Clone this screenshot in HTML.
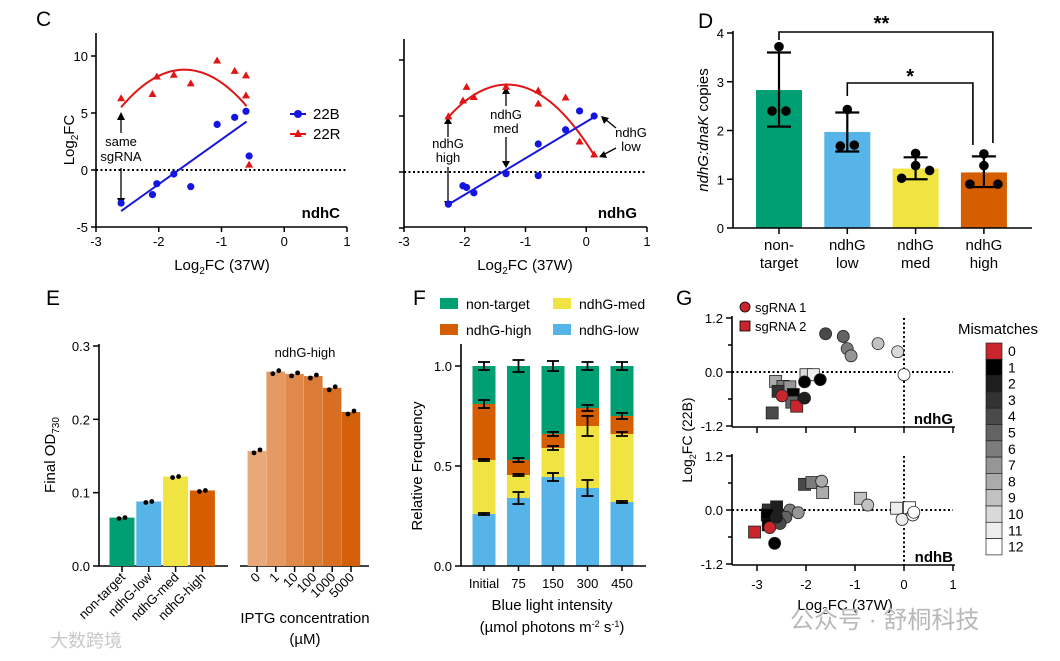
<!DOCTYPE html>
<html><head><meta charset="utf-8"><style>
html,body{margin:0;padding:0;background:#fff}
svg{display:block;font-family:"Liberation Sans","Noto Sans CJK SC",sans-serif}
</style></head><body>
<svg id="fig" width="1060" height="661" viewBox="0 0 1060 661">
<g id="static" fill="#000" font-size="13">
<text x="36" y="26" font-size="21">C</text>
<text x="698" y="28" font-size="21">D</text>
<text x="46" y="305" font-size="21">E</text>
<text x="413" y="305" font-size="21">F</text>
<text x="676" y="305" font-size="21">G</text>
<text transform="translate(74,140) rotate(-90)" text-anchor="middle" font-size="15">Log<tspan font-size="10" dy="4">2</tspan><tspan dy="-4">FC</tspan></text>
<text x="222" y="270" text-anchor="middle" font-size="15">Log<tspan font-size="10" dy="4">2</tspan><tspan dy="-4">FC (37W)</tspan></text>
<text x="525" y="270" text-anchor="middle" font-size="15">Log<tspan font-size="10" dy="4">2</tspan><tspan dy="-4">FC (37W)</tspan></text>
<text x="340" y="218" text-anchor="end" font-weight="bold" font-size="15">ndhC</text>
<text x="637" y="218" text-anchor="end" font-weight="bold" font-size="15">ndhG</text>
<text x="121" y="146" text-anchor="middle">same</text>
<text x="121" y="161" text-anchor="middle">sgRNA</text>
<text x="448" y="148" text-anchor="middle">ndhG</text>
<text x="448" y="162" text-anchor="middle">high</text>
<text x="506" y="119" text-anchor="middle">ndhG</text>
<text x="506" y="133" text-anchor="middle">med</text>
<text x="631" y="137" text-anchor="middle">ndhG</text>
<text x="631" y="151" text-anchor="middle">low</text>
<g stroke="#000" stroke-width="1.3" fill="none">
<path d="M121 133V118M121 168V200M448 137V122M448 167V203M506 106V92M506 137V163M616 128L605 119M616 148L603 155"/>
</g>
<g fill="#000">
<path d="M117 120L121 112L125 120ZM117 198L121 206L125 198ZM444 124L448 117L452 124ZM444 201L448 208L452 201ZM502 94L506 87L510 94ZM502 161L506 168L510 161ZM604 124L601 116L609 118ZM607 158L599 157L604 151Z"/>
</g>
<circle cx="298" cy="114" r="4" fill="#1515e0"/>
<line x1="290" y1="114" x2="306" y2="114" stroke="#1515e0" stroke-width="2"/>
<text x="313" y="119" font-size="15">22B</text>
<path d="M294 137L298 129L302 137Z" fill="#e01515"/>
<line x1="290" y1="134" x2="306" y2="134" stroke="#e01515" stroke-width="2"/>
<text x="313" y="139" font-size="15">22R</text>
<text transform="translate(708,130) rotate(-90)" text-anchor="middle" font-size="15"><tspan font-style="italic">ndhG:dnaK</tspan> copies</text>
<text transform="translate(55,455) rotate(-90)" text-anchor="middle" font-size="15">Final OD<tspan font-size="10" dy="4">730</tspan></text>
<text x="305" y="357" text-anchor="middle">ndhG-high</text>
<text x="305" y="623" text-anchor="middle" font-size="15">IPTG concentration</text>
<text x="305" y="644" text-anchor="middle" font-size="15">(µM)</text>
<text transform="translate(422,466) rotate(-90)" text-anchor="middle" font-size="15">Relative Frequency</text>
<text x="552" y="610" text-anchor="middle" font-size="15">Blue light intensity</text>
<text x="552" y="632" text-anchor="middle" font-size="15">(µmol photons m<tspan font-size="9" dy="-5">-2</tspan><tspan dy="5"> s</tspan><tspan font-size="9" dy="-5">-1</tspan><tspan dy="5">)</tspan></text>
<text transform="translate(692,440) rotate(-90)" text-anchor="middle" font-size="14">Log<tspan font-size="9" dy="4">2</tspan><tspan dy="-4">FC (22B)</tspan></text>
<text x="845" y="610" text-anchor="middle" font-size="15">Log<tspan font-size="10" dy="4">2</tspan><tspan dy="-4">FC (37W)</tspan></text>
<circle cx="745" cy="307" r="5" fill="#c8252c" stroke="#000" stroke-width="0.8"/>
<text x="755" y="312">sgRNA 1</text>
<rect x="740" y="321" width="10" height="10" fill="#c8252c" stroke="#000" stroke-width="0.8"/>
<text x="755" y="331">sgRNA 2</text>
<text x="998" y="334" text-anchor="middle" font-size="15">Mismatches</text>
<text x="953" y="424" text-anchor="end" font-weight="bold" font-size="15">ndhG</text>
<text x="953" y="562" text-anchor="end" font-weight="bold" font-size="15">ndhB</text>
<text x="790" y="628" font-size="24" fill="#b8b8b8">公众号 · 舒桐科技</text>
<text x="50" y="647" font-size="18" fill="#c8c8c8">大数跨境</text>
</g>
<g id="dyn"></g>
</svg>
<script>
// ---------- DATA ----------
const c1BX=[-2.6,-2.1,-2.03,-1.76,-1.49,-1.07,-0.79,-0.61,-0.56];
const c1BY=[-2.9,-2.16,-1.2,-0.35,-1.46,4.0,4.62,5.15,1.23];
const c1RX=[-2.6,-2.1,-2.03,-1.76,-1.49,-1.07,-0.79,-0.61,-0.61,-0.56];
const c1RY=[6.29,6.67,8.2,8.35,7.6,9.6,8.7,8.3,6.55,0.47];
const c1BFitX=[-2.6,-0.6], c1BFitY=[-3.6,4.25];
const c1RFitX=[-2.6,-1.6,-0.6], c1RFitY=[5.5,8.8,5.6];
const c2BX=[-2.27,-2.03,-1.97,-1.85,-1.32,-0.79,-0.79,-0.34,-0.11,0.13];
const c2BY=[-2.87,-1.23,-1.38,-1.86,-0.15,-0.33,2.5,3.77,5.45,5.0];
const c2RX=[-2.27,-2.03,-1.97,-1.85,-1.32,-0.79,-0.79,-0.34,-0.11,0.13];
const c2RY=[4.97,6.38,7.6,6.7,7.6,7.28,6.1,6.65,2.72,1.56];
const c2BFitX=[-2.27,0.13], c2BFitY=[-2.9,4.9];
const c2RFitX=[-2.27,-1.35,0.13], c2RFitY=[4.9,7.8,1.5];
const cXTicks=[-3,-2,-1,0,1];
const c1YTicks=[-5,0,5,10];

const dCats=[["non-","target"],["ndhG","low"],["ndhG","med"],["ndhG","high"]];
const dVals=[2.83,1.97,1.22,1.14];
const dErrLo=[2.08,1.57,1.0,0.84];
const dErrHi=[3.6,2.37,1.45,1.47];
const dPts=[[3.72,2.4,2.4],[2.43,1.68,1.7],[1.53,1.28,1.02,1.18],[1.52,1.28,0.9,0.9]];
const dTicks=[0,1,2,3,4];

const eCats=["non-target","ndhG-low","ndhG-med","ndhG-high"];
const eVals=[0.066,0.088,0.122,0.103];
const eIptg=["0","1","10","100","1000","5000"];
const eIptgVals=[0.157,0.265,0.262,0.259,0.243,0.21];
const eTicks=[0.0,0.1,0.2,0.3];

const fCats=["Initial","75","150","300","450"];
const fLow=[0.26,0.34,0.445,0.39,0.32];
const fMed=[0.27,0.115,0.145,0.31,0.34];
const fHigh=[0.28,0.075,0.07,0.09,0.09];
const fNon=[0.19,0.47,0.34,0.21,0.25];
const fErr=[[0.005,0.03,0.02,0.04,0.005],[0.005,0.005,0.01,0.05,0.01],[0.02,0.01,0.01,0.015,0.015],[0.02,0.03,0.025,0.02,0.02]];
const fTicks=[0,0.5,1.0];

const gTopX=[-1.6,-1.24,-1.16,-1.08,-0.53,-0.13,0,-2.03,-1.71,-2.03,-2.49];
const gTopY=[0.85,0.79,0.52,0.36,0.63,0.45,-0.06,-0.22,-0.17,-0.58,-0.53];
const gTopM=[4,5,6,7,9,10,12,1,1,2,0];
const gTopSqX=[-2.0,-1.85,-2.62,-2.47,-2.33,-2.57,-2.26,-2.29,-2.19,-2.69];
const gTopSqY=[-0.06,-0.06,-0.21,-0.32,-0.33,-0.43,-0.5,-0.67,-0.76,-0.91];
const gTopSqM=[10,11,8,6,7,3,1,5,0,4];
const gBotX=[-1.68,-0.74,-0.04,0.18,0.2,-2.64,-2.33,-2.16,-2.41,-2.53,-2.74,-2.6];
const gBotY=[0.64,0.11,-0.21,-0.11,-0.05,-0.74,0,-0.06,-0.16,-0.3,-0.39,-0.16];
const gBotM=[8,9,11,12,12,1,6,7,5,4,0,2];
const gBotSqX=[-2.03,-1.88,-1.66,-0.89,-0.15,0.11,-3.05,-2.77,-2.6,-2.79,-2.77];
const gBotSqY=[0.57,0.61,0.39,0.26,0.04,0.05,-0.49,0,0.07,-0.11,-0.33];
const gBotSqM=[4,6,8,9,11,12,0,3,2,1,1];
const gXTicks=[-3,-2,-1,0,1];
const gYTicks=[-1.2,0,1.2];
const gShades=["#c8252c","#000000","#1e1e1e","#333333","#4a4a4a","#636363","#7c7c7c","#969696","#ababab","#c2c2c2","#d9d9d9","#ededed","#ffffff"];
const gMismatchLabels=["0","1","2","3","4","5","6","7","8","9","10","11","12"];

// ---------- HELPERS ----------
const NS="http://www.w3.org/2000/svg";
const root=document.getElementById('dyn');
function mk(tag,attrs,name,inter){
  const el=document.createElementNS(NS,tag);
  for(const k in attrs) el.setAttribute(k,attrs[k]);
  
  
  root.appendChild(el);
  return el;
}
function lin(d0,d1,r0,r1){return v=>r0+(v-d0)/(d1-d0)*(r1-r0);}
function txt(x,y,s,name,opt){const t=mk('text',Object.assign({x:x,y:y,'font-size':13,fill:'#000'},opt||{}),name);t.textContent=s;return t;}
function line(x1,y1,x2,y2,name,w,extra){return mk('line',Object.assign({x1:x1,y1:y1,x2:x2,y2:y2,stroke:'#000','stroke-width':w||1.5},extra||{}),name);}
function quadPts(xs,ys){ // lagrange through 3 points
  const f=x=>{let s=0;for(let i=0;i<3;i++){let p=ys[i];for(let j=0;j<3;j++)if(j!==i)p*=(x-xs[j])/(xs[i]-xs[j]);s+=p;}return s;};
  const out=[];for(let k=0;k<=40;k++){const x=xs[0]+(xs[2]-xs[0])*k/40;out.push([x,f(x)]);}return out;
}
const BLUE="#1515e0",RED="#e01515";

// ---------- PANEL C ----------
function panelC(sx,sy,yTop,yBot,xL,xR,bx,by,rx,ry,bfx,bfy,rfx,rfy,yTicks,labelTicks,pre){
  line(xL,yTop,xL,yBot,pre+'-y-axis',1.6);
  line(xL,yBot,xR,yBot,pre+'-x-axis',1.6);
  cXTicks.forEach(t=>{line(sx(t),yBot,sx(t),yBot+5,pre+'-x-tick');txt(sx(t),yBot+19,String(t),pre+'-x-tick-label',{'text-anchor':'middle'});});
  yTicks.forEach(t=>{line(xL-5,sy(t),xL,sy(t),pre+'-y-tick');if(labelTicks)txt(xL-8,sy(t)+5,String(t),pre+'-y-tick-label',{'text-anchor':'end'});});
  line(xL,sy(0),xR,sy(0),pre+'-zero-line',2,{'stroke-dasharray':'2,2.5'});
  mk('path',{d:'M'+quadPts(rfx,rfy).map(p=>sx(p[0])+' '+sy(p[1])).join('L'),fill:'none',stroke:RED,'stroke-width':2},pre+'-22r-fit');
  line(sx(bfx[0]),sy(bfy[0]),sx(bfx[1]),sy(bfy[1]),pre+'-22b-fit',2,{stroke:BLUE});
  bx.forEach((x,i)=>mk('circle',{cx:sx(x),cy:sy(by[i]),r:3.6,fill:BLUE},pre+'-22b-point'));
  rx.forEach((x,i)=>{const X=sx(x),Y=sy(ry[i]);mk('path',{d:`M${X-4} ${Y+3}L${X} ${Y-4}L${X+4} ${Y+3}Z`,fill:RED},pre+'-22r-point');});
}
panelC(lin(-3,1,96,347),lin(0,10,170,56),33,227,96,347,c1BX,c1BY,c1RX,c1RY,c1BFitX,c1BFitY,c1RFitX,c1RFitY,c1YTicks,true,'c1');
panelC(lin(-3,1,404,647),lin(0,5,172,116),39,227,404,647,c2BX,c2BY,c2RX,c2RY,c2BFitX,c2BFitY,c2RFitX,c2RFitY,[-5,0,5,10].filter(v=>v<=10&&v>=-5).filter(v=>lin(0,5,172,116)(v)>=38),false,'c2');

// ---------- PANEL D ----------
(function(){
  const y=lin(0,4,228,33), xc=i=>779+i*68.3, cols=["#009e73","#56b4e9","#f0e442","#d55e00"];
  dCats.forEach((c,i)=>{
    mk('rect',{x:xc(i)-23,y:y(dVals[i]),width:46,height:y(0)-y(dVals[i]),fill:cols[i]},'d-bar-'+i);
    line(xc(i),y(dErrLo[i]),xc(i),y(dErrHi[i]),'d-error-bar',2.2);
    line(xc(i)-12,y(dErrLo[i]),xc(i)+12,y(dErrLo[i]),'d-error-cap',2.2);
    line(xc(i)-12,y(dErrHi[i]),xc(i)+12,y(dErrHi[i]),'d-error-cap',2.2);
    const n=dPts[i].length;
    dPts[i].forEach((v,j)=>{const off=n===3?[0,-7,7][j]:[0,0,-14,14][j];mk('circle',{cx:xc(i)+off,cy:y(v),r:4.8,fill:'#000'},'d-point');});
    line(xc(i),y(0),xc(i),y(0)+6,'d-x-tick');
    txt(xc(i),250,c[0],'d-x-label',{'text-anchor':'middle','font-size':15});
    txt(xc(i),268,c[1],'d-x-label',{'text-anchor':'middle','font-size':15});
  });
  line(733,31,733,228,'d-y-axis',1.6);line(733,228,1032,228,'d-x-axis',1.6);
  dTicks.forEach(t=>{line(727,y(t),733,y(t),'d-y-tick');txt(724,y(t)+5,String(t),'d-y-tick-label',{'text-anchor':'end'});});
  mk('path',{d:`M${xc(0)} 40V32H${xc(3)+9}V143`,fill:'none',stroke:'#000','stroke-width':1.6},'d-bracket-double-star');
  txt((xc(0)+xc(3))/2,30,'**','d-significance-double-star',{'text-anchor':'middle','font-size':20,'font-weight':'bold'});
  mk('path',{d:`M${xc(1)} 96V83H${xc(3)-11}V145`,fill:'none',stroke:'#000','stroke-width':1.6},'d-bracket-star');
  txt((xc(1)+xc(3)-11)/2,83,'*','d-significance-star',{'text-anchor':'middle','font-size':20,'font-weight':'bold'});
})();

// ---------- PANEL E ----------
(function(){
  const y=lin(0,0.3,566,346), cols=["#009e73","#56b4e9","#f0e442","#d55e00"];
  line(99,344,99,566,'e-y-axis',1.6);line(99,566,228,566,'e-x-axis-left',1.6);line(240,566,369,566,'e-x-axis-right',1.6);
  eTicks.forEach(t=>{line(93,y(t),99,y(t),'e-y-tick');txt(90,y(t)+5,t.toFixed(1),'e-y-tick-label',{'text-anchor':'end'});});
  eCats.forEach((c,i)=>{const x=122+i*26.8;
    mk('rect',{x:x-12.5,y:y(eVals[i]),width:25,height:566-y(eVals[i]),fill:cols[i]},'e-bar-'+c);
    mk('circle',{cx:x-3,cy:y(eVals[i])+1,r:2.4,fill:'#000'},'e-point');mk('circle',{cx:x+3,cy:y(eVals[i]),r:2.4,fill:'#000'},'e-point');
    line(x,566,x,572,'e-x-tick');
    txt(x+4,578,c,'e-x-label',{'text-anchor':'end',transform:`rotate(-45 ${x+4} 578)`});
  });
  const shades=["#e8a878","#e49a62","#df8a4a","#db7c36","#d86e22","#d35f0a"];
  eIptg.forEach((c,i)=>{const x=257+i*18.8;
    mk('rect',{x:x-9.4,y:y(eIptgVals[i]),width:18.6,height:566-y(eIptgVals[i]),fill:shades[i]},'e-iptg-bar-'+c);
    mk('circle',{cx:x-3,cy:y(eIptgVals[i])+2,r:2.4,fill:'#000'},'e-point');mk('circle',{cx:x+3,cy:y(eIptgVals[i])-1,r:2.4,fill:'#000'},'e-point');
    line(x,566,x,572,'e-iptg-tick');
    txt(x+4,578,c,'e-iptg-label',{'text-anchor':'end',transform:`rotate(-45 ${x+4} 578)`});
  });
})();

// ---------- PANEL F ----------
(function(){
  const y=lin(0,1,566,366), cols=["#56b4e9","#f0e442","#d55e00","#009e73"], series=[fLow,fMed,fHigh,fNon], names=['ndhg-low','ndhg-med','ndhg-high','non-target'];
  fCats.forEach((c,i)=>{const x=484+i*34.5;let acc=0;
    series.forEach((s,k)=>{mk('rect',{x:x-11.5,y:y(acc+s[i]),width:23,height:y(acc)-y(acc+s[i]),fill:cols[k]},'f-bar-'+names[k]);acc+=s[i];});
    acc=0;series.forEach((s,k)=>{acc+=s[i];const e=fErr[k][i];
      line(x,y(acc-e),x,y(acc+e),'f-error-bar',1.8);line(x-6,y(acc-e),x+6,y(acc-e),'f-error-cap',1.8);line(x-6,y(acc+e),x+6,y(acc+e),'f-error-cap',1.8);});
    line(x,566,x,571,'f-x-tick');
    txt(x,588,c,'f-x-label',{'text-anchor':'middle'});
  });
  line(461,344,461,566,'f-y-axis',1.6);line(461,566,646,566,'f-x-axis',1.6);
  fTicks.forEach(t=>{line(455,y(t),461,y(t),'f-y-tick');txt(452,y(t)+5,t.toFixed(1),'f-y-tick-label',{'text-anchor':'end'});});
  const leg=[["non-target","#009e73",440,304],["ndhG-med","#f0e442",553,304],["ndhG-high","#d55e00",440,330],["ndhG-low","#56b4e9",553,330]];
  leg.forEach(l=>{mk('rect',{x:l[2],y:l[3]-6,width:18,height:11,fill:l[1]},'f-legend-swatch');txt(l[2]+26,l[3]+5,l[0],'f-legend-label',{'font-size':14});});
})();

// ---------- PANEL G ----------
(function(){
  const sx=lin(-3,1,757,953);
  function sub(y0,yT,yB,cx,cy,cm,sqx,sqy,sqm,pre,labels){
    const sy=lin(0,1.2,y0,yT);
    line(732,yT-2,732,yB,pre+'-y-axis',1.6);line(732,yB,955,yB,pre+'-x-axis',1.6);
    gYTicks.forEach(t=>{line(726,sy(t),732,sy(t),pre+'-y-tick');txt(723,sy(t)+5,t.toFixed(1),pre+'-y-tick-label',{'text-anchor':'end'});});
    [-0.6,0.6].forEach(t=>line(728,sy(t),732,sy(t),pre+'-y-minor-tick'));
    gXTicks.forEach(t=>{line(sx(t),yB,sx(t),yB+6,pre+'-x-tick');if(labels)txt(sx(t),yB+24,String(t),pre+'-x-tick-label',{'text-anchor':'middle'});});
    line(732,sy(0),953,sy(0),pre+'-zero-h',2,{'stroke-dasharray':'2,2.5'});
    line(sx(0),yT,sx(0),yB,pre+'-zero-v',2,{'stroke-dasharray':'2,2.5'});
    sqx.forEach((x,i)=>mk('rect',{x:sx(x)-6,y:sy(sqy[i])-6,width:12,height:12,fill:gShades[sqm[i]],stroke:'#222','stroke-width':0.8},pre+'-sgrna2-point'));
    cx.forEach((x,i)=>mk('circle',{cx:sx(x),cy:sy(cy[i]),r:6,fill:gShades[cm[i]],stroke:'#222','stroke-width':0.8},pre+'-sgrna1-point'));
  }
  sub(372,318,427,gTopX,gTopY,gTopM,gTopSqX,gTopSqY,gTopSqM,'g-ndhg',false);
  sub(510,456,565,gBotX,gBotY,gBotM,gBotSqX,gBotSqY,gBotSqM,'g-ndhb',true);
  gShades.forEach((c,i)=>{const yy=343+i*16.3;
    mk('rect',{x:986,y:yy,width:16,height:16.3,fill:c,stroke:'#222','stroke-width':0.7},'mismatch-colorbar-cell');
    txt(1008,yy+13,gMismatchLabels[i],'mismatch-label',{'font-size':14});});
})();
</script>
</body></html>
